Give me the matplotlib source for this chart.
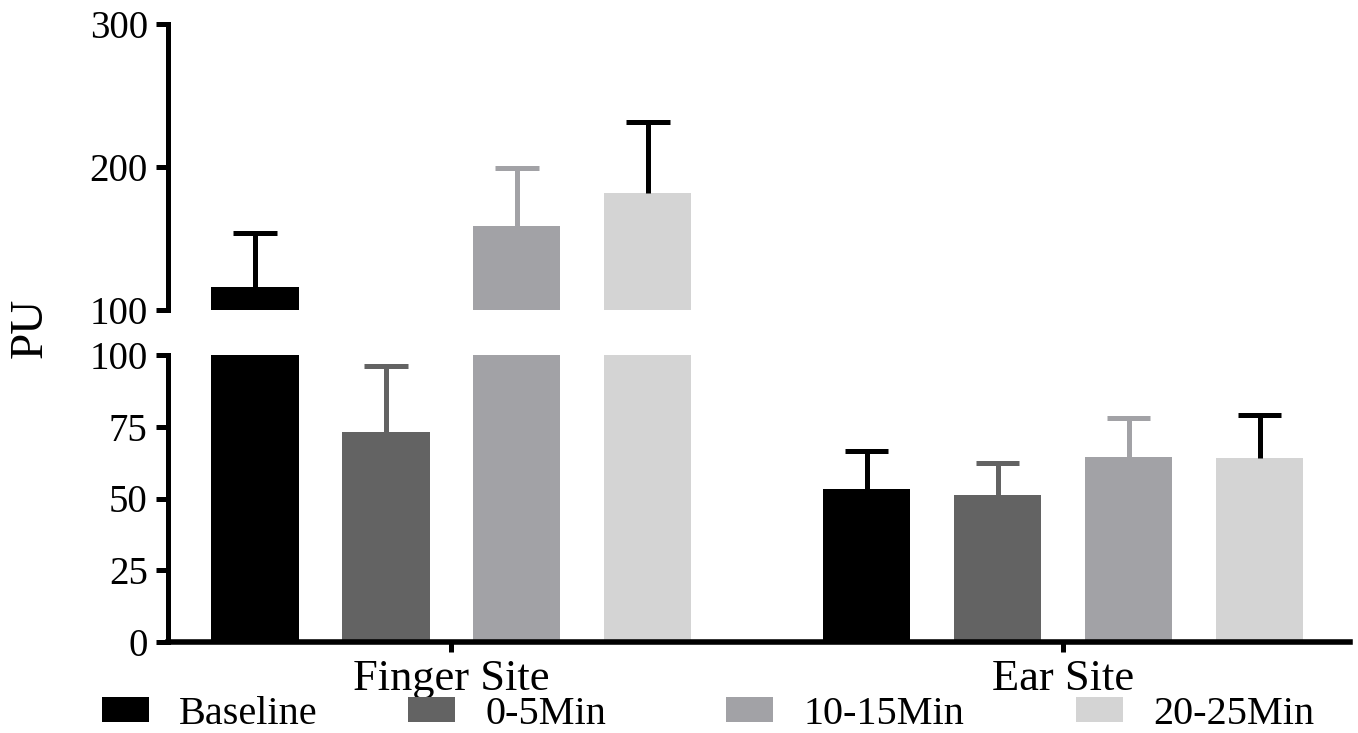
import matplotlib
matplotlib.use("Agg")
import matplotlib.pyplot as plt
import numpy as np
from matplotlib.patches import Patch

groups = ["Finger Site", "Ear Site"]
series = ["Baseline", "0-5Min", "10-15Min", "20-25Min"]
means = {
    "Baseline": [116, 53.3],
    "0-5Min": [73.3, 51.2],
    "10-15Min": [159, 64.5],
    "20-25Min": [181.6, 64.1],
}
errs = {
    "Baseline": [38, 13.3],
    "0-5Min": [23, 11.2],
    "10-15Min": [40.5, 13.6],
    "20-25Min": [50, 15],
}
colors = ["#000000", "#636363", "#a2a2a6", "#d4d4d4"]
err_colors = ["#000000", "#636363", "#a2a2a6", "#000000"]
lower_ticks = [0, 25, 50, 75, 100]
upper_ticks = [100, 200, 300]

plt.rcParams["font.family"] = ["Liberation Serif", "DejaVu Serif"]

W, H = 1358, 733
fig = plt.figure(figsize=(W / 100, H / 100), dpi=100)

left_px, right_px = 168, 1350
ax_lo = fig.add_axes([left_px / W, (H - 642) / H, (right_px - left_px) / W, (642 - 355) / H])
ax_up = fig.add_axes([left_px / W, (H - 310) / H, (right_px - left_px) / W, (310 - 24) / H])

group_centers = np.array([0.0, 4.67])
bar_w = 0.665
cap_half = 0.165
offsets = np.arange(len(series)) - 1.5

for ax in (ax_lo, ax_up):
    for i, s in enumerate(series):
        x = group_centers + offsets[i]
        m = np.array(means[s])
        e = np.array(errs[s])
        ax.bar(x, m, width=bar_w, color=colors[i], zorder=2)
        ax.vlines(x, m, m + e, colors=err_colors[i], linewidth=3.6, zorder=3)
        ax.hlines(m + e, x - cap_half, x + cap_half, colors=err_colors[i], linewidth=3.6, zorder=3)
    ax.set_xlim(-2.164, 6.86)
    for sp in ("top", "right"):
        ax.spines[sp].set_visible(False)
    ax.spines["left"].set_linewidth(3.6)
    ax.tick_params(axis="y", length=8.6, width=3.6, labelsize=28, pad=6)

ax_lo.set_ylim(0, 100)
ax_lo.set_yticks(lower_ticks)
ax_lo.spines["bottom"].set_linewidth(4)
ax_lo.set_xticks(group_centers)
ax_lo.set_xticklabels(groups)
ax_lo.tick_params(axis="x", length=7, width=3.6, labelsize=32, pad=5)

ax_up.set_ylim(100, 300)
ax_up.set_yticks(upper_ticks)
ax_up.spines["bottom"].set_visible(False)
ax_up.set_xticks([])

fig.text(30 / W, 1 - 328 / H, "PU", rotation=90, ha="center", va="center", fontsize=34)

# legend entries, each placed at its own position along the bottom row
legend_x_px = [102, 408, 726, 1076]
for i, s in enumerate(series):
    fig.legend([Patch(facecolor=colors[i], edgecolor="none")], [s], loc="center left",
               bbox_to_anchor=(legend_x_px[i] / W, 1 - 714 / H), frameon=False,
               fontsize=29, handlelength=1.17, handleheight=0.6, handletextpad=0.75,
               borderpad=0, borderaxespad=0)

fig.savefig("out.png", dpi=100)
